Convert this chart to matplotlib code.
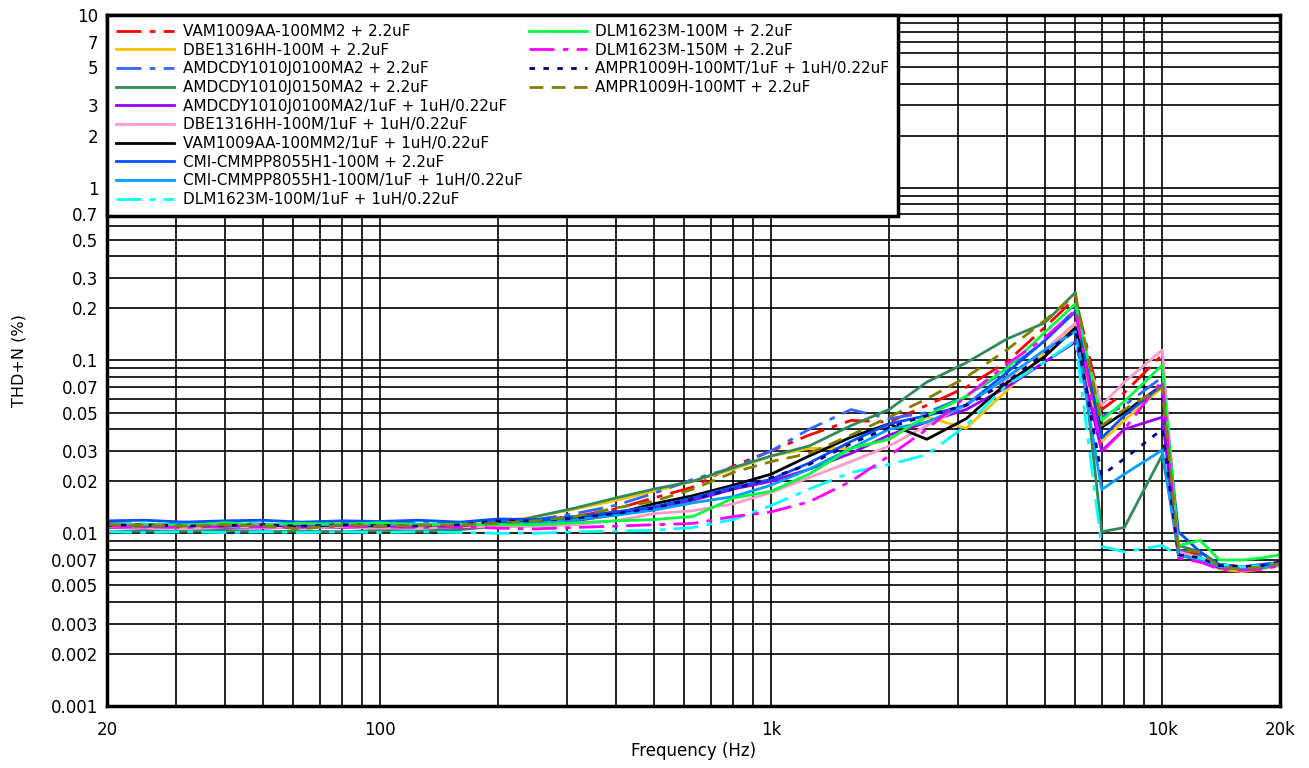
import matplotlib
matplotlib.use("Agg")
import matplotlib.pyplot as plt
from matplotlib.lines import Line2D
from matplotlib.ticker import FixedLocator, LogLocator, NullFormatter

plt.rcParams['font.family'] = ['DejaVu Sans']

# Measurement frequencies (Hz)
freq = [20, 25, 31.5, 40, 50, 63, 80, 100, 125, 160, 200,
        250, 315, 400, 500, 630, 800,
        1000, 1250, 1600, 2000, 2500, 3150, 4000, 5000,
        6000, 7000, 8000, 10000,
        11000, 12500, 14000, 16000, 18000, 20000]

# THD+N (%) per filter configuration
vam_22 = [0.0112, 0.0110, 0.0111, 0.0113, 0.0111, 0.0112, 0.0110, 0.0112, 0.0111, 0.0113, 0.0115,
          0.0118, 0.0125, 0.0138, 0.0160, 0.0185, 0.0245, 0.0300, 0.0370, 0.0450, 0.0440, 0.0550, 0.0700, 0.0980, 0.1550,
          0.2300, 0.0520, 0.0650, 0.1080, 0.0080, 0.0075, 0.0066, 0.0064, 0.0065, 0.0068]
dbe_22 = [0.0113, 0.0112, 0.0110, 0.0111, 0.0113, 0.0111, 0.0112, 0.0114, 0.0112, 0.0112, 0.0116,
          0.0125, 0.0138, 0.0155, 0.0175, 0.0200, 0.0235, 0.0280, 0.0310, 0.0310, 0.0350, 0.0470, 0.0405, 0.0670, 0.1100,
          0.1650, 0.0340, 0.0450, 0.0700, 0.0078, 0.0072, 0.0062, 0.0060, 0.0062, 0.0065]
amd100_22 = [0.0114, 0.0113, 0.0112, 0.0115, 0.0113, 0.0112, 0.0114, 0.0113, 0.0115, 0.0114, 0.0118,
             0.0120, 0.0130, 0.0145, 0.0170, 0.0205, 0.0240, 0.0300, 0.0400, 0.0520, 0.0460, 0.0500, 0.0620, 0.0880, 0.1300,
             0.2000, 0.0470, 0.0550, 0.0800, 0.0080, 0.0074, 0.0064, 0.0063, 0.0064, 0.0067]
amd150_22 = [0.0102, 0.0103, 0.0103, 0.0104, 0.0102, 0.0103, 0.0102, 0.0104, 0.0103, 0.0105, 0.0110,
             0.0125, 0.0140, 0.0160, 0.0180, 0.0200, 0.0240, 0.0280, 0.0320, 0.0420, 0.0520, 0.0750, 0.0970, 0.1330, 0.1650,
             0.2480, 0.0102, 0.0108, 0.0284, 0.0085, 0.0078, 0.0065, 0.0063, 0.0064, 0.0067]
amd100_lc = [0.0108, 0.0107, 0.0109, 0.0108, 0.0107, 0.0109, 0.0108, 0.0108, 0.0109, 0.0108, 0.0110,
             0.0113, 0.0118, 0.0128, 0.0140, 0.0155, 0.0180, 0.0200, 0.0235, 0.0290, 0.0370, 0.0440, 0.0520, 0.0700, 0.0980,
             0.1280, 0.0300, 0.0400, 0.0470, 0.0075, 0.0071, 0.0063, 0.0062, 0.0063, 0.0066]
dbe_lc = [0.0109, 0.0108, 0.0107, 0.0109, 0.0108, 0.0108, 0.0109, 0.0107, 0.0108, 0.0109, 0.0109,
          0.0110, 0.0112, 0.0118, 0.0130, 0.0135, 0.0148, 0.0172, 0.0210, 0.0260, 0.0320, 0.0420, 0.0560, 0.0780, 0.1150,
          0.1650, 0.0550, 0.0750, 0.1150, 0.0078, 0.0072, 0.0064, 0.0062, 0.0063, 0.0066]
vam_lc = [0.0111, 0.0110, 0.0111, 0.0110, 0.0112, 0.0110, 0.0111, 0.0110, 0.0112, 0.0111, 0.0114,
          0.0115, 0.0122, 0.0130, 0.0148, 0.0165, 0.0190, 0.0220, 0.0280, 0.0360, 0.0430, 0.0350, 0.0460, 0.0740, 0.1050,
          0.1550, 0.0410, 0.0500, 0.0720, 0.0075, 0.0070, 0.0064, 0.0063, 0.0064, 0.0067]
cmi_22 = [0.0118, 0.0119, 0.0116, 0.0118, 0.0119, 0.0116, 0.0118, 0.0117, 0.0119, 0.0116, 0.0121,
          0.0120, 0.0125, 0.0133, 0.0142, 0.0160, 0.0185, 0.0205, 0.0255, 0.0340, 0.0430, 0.0480, 0.0550, 0.0850, 0.1300,
          0.1920, 0.0356, 0.0480, 0.0720, 0.0102, 0.0078, 0.0066, 0.0064, 0.0066, 0.0068]
cmi_lc = [0.0112, 0.0111, 0.0113, 0.0111, 0.0112, 0.0113, 0.0111, 0.0112, 0.0113, 0.0112, 0.0113,
          0.0115, 0.0120, 0.0127, 0.0136, 0.0150, 0.0163, 0.0190, 0.0235, 0.0310, 0.0400, 0.0440, 0.0550, 0.0800, 0.1150,
          0.1470, 0.0179, 0.0220, 0.0303, 0.0075, 0.0070, 0.0064, 0.0062, 0.0063, 0.0066]
dlm100_lc = [0.0102, 0.0101, 0.0102, 0.0101, 0.0102, 0.0101, 0.0102, 0.0101, 0.0102, 0.0101, 0.0100,
             0.0100, 0.0102, 0.0103, 0.0104, 0.0108, 0.0120, 0.0145, 0.0180, 0.0225, 0.0250, 0.0285, 0.0420, 0.0720, 0.0980,
             0.1310, 0.0084, 0.0078, 0.0085, 0.0074, 0.0072, 0.0066, 0.0064, 0.0065, 0.0068]
dlm100_22 = [0.0112, 0.0113, 0.0111, 0.0115, 0.0112, 0.0114, 0.0113, 0.0115, 0.0112, 0.0113, 0.0112,
             0.0112, 0.0115, 0.0118, 0.0120, 0.0125, 0.0160, 0.0175, 0.0220, 0.0310, 0.0350, 0.0480, 0.0620, 0.0900, 0.1450,
             0.2130, 0.0450, 0.0580, 0.0940, 0.0085, 0.0091, 0.0070, 0.0070, 0.0072, 0.0075]
dlm150_22 = [0.0110, 0.0109, 0.0108, 0.0110, 0.0109, 0.0108, 0.0110, 0.0109, 0.0108, 0.0109, 0.0107,
             0.0106, 0.0108, 0.0110, 0.0112, 0.0114, 0.0125, 0.0133, 0.0152, 0.0200, 0.0280, 0.0400, 0.0620, 0.0950, 0.1350,
             0.1960, 0.0296, 0.0400, 0.0770, 0.0072, 0.0068, 0.0062, 0.0061, 0.0062, 0.0065]
ampr_lc = [0.0111, 0.0112, 0.0110, 0.0111, 0.0112, 0.0110, 0.0112, 0.0111, 0.0110, 0.0112, 0.0118,
           0.0118, 0.0122, 0.0130, 0.0140, 0.0158, 0.0180, 0.0210, 0.0250, 0.0330, 0.0410, 0.0480, 0.0550, 0.0750, 0.1100,
           0.1500, 0.0216, 0.0270, 0.0400, 0.0075, 0.0072, 0.0065, 0.0064, 0.0065, 0.0068]
ampr_22 = [0.0112, 0.0111, 0.0110, 0.0112, 0.0110, 0.0106, 0.0112, 0.0110, 0.0111, 0.0112, 0.0114,
           0.0118, 0.0125, 0.0140, 0.0153, 0.0180, 0.0225, 0.0260, 0.0290, 0.0370, 0.0470, 0.0600, 0.0800, 0.1150, 0.1700,
           0.2400, 0.0420, 0.0520, 0.0700, 0.0080, 0.0078, 0.0064, 0.0062, 0.0064, 0.0067]

labels = [
    "VAM1009AA-100MM2 + 2.2uF",
    "DBE1316HH-100M + 2.2uF",
    "AMDCDY1010J0100MA2 + 2.2uF",
    "AMDCDY1010J0150MA2 + 2.2uF",
    "AMDCDY1010J0100MA2/1uF + 1uH/0.22uF",
    "DBE1316HH-100M/1uF + 1uH/0.22uF",
    "VAM1009AA-100MM2/1uF + 1uH/0.22uF",
    "CMI-CMMPP8055H1-100M + 2.2uF",
    "CMI-CMMPP8055H1-100M/1uF + 1uH/0.22uF",
    "DLM1623M-100M/1uF + 1uH/0.22uF",
    "DLM1623M-100M + 2.2uF",
    "DLM1623M-150M + 2.2uF",
    "AMPR1009H-100MT/1uF + 1uH/0.22uF",
    "AMPR1009H-100MT + 2.2uF",
]
series = [vam_22, dbe_22, amd100_22, amd150_22, amd100_lc, dbe_lc, vam_lc,
          cmi_22, cmi_lc, dlm100_lc, dlm100_22, dlm150_22, ampr_lc, ampr_22]
colors = ["#FF0000", "#FFC000", "#3366FF", "#2E8B57", "#9900FF", "#FF99CC", "#000000",
          "#0050FF", "#00A0FF", "#00FFFF", "#00FF40", "#FF00FF", "#000080", "#808000"]
dashdot = (0, (9, 3, 2, 3))
styles = [dashdot, "-", dashdot, "-", "-", "-", "-",
          "-", "-", dashdot, "-", dashdot, (0, (2, 3)), (0, (5, 3))]

fig = plt.figure(figsize=(13.09, 7.68), dpi=100)
ax = fig.add_axes([0.0817, 0.0807, 0.8961, 0.8998])

handles = []
for y, c, ls, lab in zip(series, colors, styles, labels):
    h, = ax.plot(freq, y, color=c, linestyle=ls, linewidth=2.0, label=lab, zorder=3)
    handles.append(h)

ax.set_xscale("log")
ax.set_yscale("log")
ax.set_xlim(20, 20000)
ax.set_ylim(0.001, 10)

xticks = [20, 100, 1000, 10000, 20000]
xlabels = ["20", "100", "1k", "10k", "20k"]
ax.xaxis.set_major_locator(FixedLocator(xticks))
ax.set_xticklabels(xlabels)
ax.xaxis.set_minor_locator(LogLocator(base=10, subs=range(1, 10), numticks=20))
ax.xaxis.set_minor_formatter(NullFormatter())

yticks = [0.001, 0.002, 0.003, 0.005, 0.007, 0.01, 0.02, 0.03, 0.05, 0.07,
          0.1, 0.2, 0.3, 0.5, 0.7, 1, 2, 3, 5, 7, 10]
ylabels = ["0.001", "0.002", "0.003", "0.005", "0.007", "0.01", "0.02", "0.03", "0.05", "0.07",
           "0.1", "0.2", "0.3", "0.5", "0.7", "1", "2", "3", "5", "7", "10"]
ax.yaxis.set_major_locator(FixedLocator(yticks))
ax.set_yticklabels(ylabels)
ax.yaxis.set_minor_locator(LogLocator(base=10, subs=range(1, 10), numticks=20))
ax.yaxis.set_minor_formatter(NullFormatter())

ax.grid(True, which="both", color="black", linewidth=1.2, zorder=1)
ax.set_axisbelow(True)
ax.tick_params(which="both", length=0, labelsize=12)
ax.tick_params(axis="x", pad=11)
ax.tick_params(axis="y", pad=6)
for s in ax.spines.values():
    s.set_linewidth(2.5)
    s.set_zorder(5)

ax.set_xlabel("Frequency (Hz)", fontsize=12, labelpad=2)
ax.set_ylabel("THD+N (%)", fontsize=11.5, labelpad=18)

blank = Line2D([], [], alpha=0)
leg_handles = handles + [blank] * 6
leg_labels = labels + [""] * 6
leg = ax.legend(leg_handles, leg_labels, loc="upper left", bbox_to_anchor=(0, 1),
                ncol=2, fontsize=11, frameon=True, fancybox=False, framealpha=1,
                edgecolor="black", borderaxespad=0, handlelength=3.8,
                labelspacing=0.24, columnspacing=0.4, borderpad=0.6, handletextpad=0.55)
leg.get_frame().set_linewidth(2.5)
leg.set_zorder(10)

fig.savefig("out.png", dpi=100)
